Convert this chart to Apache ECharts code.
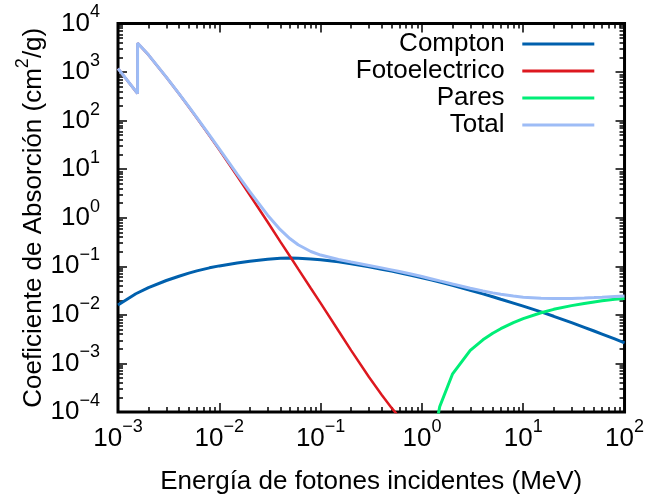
<!DOCTYPE html>
<html><head><meta charset="utf-8">
<script src="https://cdn.jsdelivr.net/npm/echarts@6/dist/echarts.min.js"></script>
<style>html,body{margin:0;padding:0;background:#fff}#c{width:647px;height:500px}</style>
</head><body><div id="c"></div>
<script>
// Photon energy (MeV); the K edge appears twice (below / above)
const energy = [0.001, 0.0015, 0.0015596, 0.0015596, 0.002, 0.003, 0.004, 0.005, 0.006, 0.008,
  0.01, 0.015, 0.02, 0.03, 0.04, 0.05, 0.06, 0.08, 0.1, 0.15,
  0.2, 0.3, 0.4, 0.5, 0.6, 0.8, 1, 1.022, 1.25, 1.5,
  2, 3, 4, 5, 6, 8, 10, 15, 20, 30,
  40, 50, 60, 80, 100];
const compton = [0.0160, 0.0272, 0.0282, 0.0282, 0.0365, 0.0510, 0.0625, 0.0725, 0.0805, 0.093,
  0.102, 0.117, 0.127, 0.140, 0.146, 0.148, 0.147, 0.142, 0.137, 0.124,
  0.113, 0.0975, 0.0872, 0.0797, 0.0737, 0.0648, 0.0583, 0.0577, 0.0522, 0.0475,
  0.0405, 0.0321, 0.0270, 0.0236, 0.0210, 0.0175, 0.0151, 0.0115, 0.00935, 0.00690,
  0.00553, 0.00465, 0.00402, 0.00319, 0.00265];
const fotoelectrico = [1183, 400, 360, 3935, 2255, 784, 357, 191, 113.3, 48.8,
  25.0, 7.26, 2.94, 0.816, 0.323, 0.159, 0.0884, 0.0353, 0.0175, 0.00470,
  0.00186, 0.000526, 0.000227, 0.000123, 0.0000772, 0.0000385, 0.0000232, null, null, null,
  null, null, null, null, null, null, null, null, null, null,
  null, null, null, null, null];
const pares = [null, null, null, null, null, null, null, null, null, null,
  null, null, null, null, null, null, null, null, null, null,
  null, null, null, null, null, null, null, null, 0.000019, 0.00013,
  0.0006, 0.00185, 0.00307, 0.00419, 0.00519, 0.00693, 0.00838, 0.01107, 0.01301, 0.0155,
  0.0172, 0.0185, 0.0195, 0.0209, 0.0218];
const total = [1185, 402.2, 362.1, 3957, 2263, 788, 360.5, 193.4, 115.3, 50.33,
  26.23, 7.955, 3.441, 1.128, 0.5685, 0.3681, 0.2778, 0.2018, 0.1704, 0.1378,
  0.1223, 0.1042, 0.09276, 0.08445, 0.07802, 0.06841, 0.06146, 0.0608, 0.05496, 0.05006,
  0.04324, 0.03541, 0.03106, 0.02836, 0.02655, 0.02437, 0.02318, 0.02195, 0.02168, 0.02184,
  0.02229, 0.02274, 0.02314, 0.02384, 0.02441];
const seriesNames = ['Compton', 'Fotoelectrico', 'Pares', 'Total'];
const xRange = [1e-3, 1e2];
const yRange = [1e-4, 1e4];
const xTitle = 'Energía de fotones incidentes (MeV)';
const yTitle = 'Coeficiente de Absorción (cm{s|2}/g)';

const FONT = '"Liberation Sans", Arial, Helvetica, sans-serif';
const colors = ['#0060ad', '#dd181f', '#00ee77', '#9dbcf6'];
const widths = [3, 2.5, 3, 3];
function pairs(vals) { return energy.map((e, i) => [e, vals[i]]).filter(p => p[1] != null); }
const rich = {
  b: {fontSize: 26, fontFamily: FONT, color: '#000', lineHeight: 26},
  s: {fontSize: 18, fontFamily: FONT, color: '#000', padding: [0, 0, 22, 0]}
};
function expLabel(v) { const n = Math.round(Math.log10(v)); return '{b|10}{s|' + (n < 0 ? '\u2212' + (-n) : n) + '}'; }
const tickStyle = {color: '#000', width: 1.5};
function logAxis(range, pos, splits, opts) {
  const a = {type: 'log', logBase: 10, min: range[0], max: range[1], splitNumber: splits, position: pos,
    axisLine: {show: false}, splitLine: {show: false},
    axisTick: {show: true, inside: true, length: 9, lineStyle: tickStyle},
    minorTick: {show: true, splitNumber: 9, length: 5, lineStyle: tickStyle},
    axisLabel: {show: false}};
  return Object.assign(a, opts || {});
}

const chart = echarts.init(document.getElementById('c'), null, {renderer: 'canvas'});
chart.setOption({
  animation: false,
  backgroundColor: '#fff',
  textStyle: {fontFamily: FONT},
  grid: {left: 118, right: 21.5, top: 23.5, bottom: 87, show: true, borderColor: '#000', borderWidth: 3, backgroundColor: 'transparent'},
  legend: {
    orient: 'vertical', align: 'right', right: 52.7, top: 31, padding: 0,
    itemWidth: 72, itemHeight: 3, itemGap: 1, icon: 'rect',
    textStyle: {fontSize: 26, fontFamily: FONT, color: '#000', padding: [0, 12.7, 0, 0]},
    data: seriesNames
  },
  xAxis: [
    logAxis(xRange, 'bottom', 5, {
      axisLabel: {show: true, margin: 6.5, formatter: expLabel, rich: rich},
      name: xTitle, nameLocation: 'middle', nameGap: 57, nameMoveOverlap: false,
      nameTextStyle: {fontSize: 26, fontFamily: FONT, color: '#000'}
    }),
    logAxis(xRange, 'top', 5)
  ],
  yAxis: [
    logAxis(yRange, 'left', 8, {
      axisLabel: {show: true, margin: 18, formatter: expLabel, rich: rich},
      name: yTitle, nameLocation: 'middle', nameGap: 64, nameRotate: 90, nameMoveOverlap: false,
      nameTextStyle: {fontSize: 26, fontFamily: FONT, color: '#000',
        rich: {s: {fontSize: 18, fontFamily: FONT, color: '#000', padding: [0, 0, 22, 0]}}}
    }),
    logAxis(yRange, 'right', 8)
  ],
  series: [compton, fotoelectrico, pares, total].map((vals, i) => ({
    name: seriesNames[i], type: 'line', xAxisIndex: 0, yAxisIndex: 0,
    data: pairs(vals), symbol: 'none', showSymbol: false, smooth: false, clip: true,
    lineStyle: {width: widths[i], color: colors[i]}, itemStyle: {color: colors[i]}
  }))
});
</script></body></html>
